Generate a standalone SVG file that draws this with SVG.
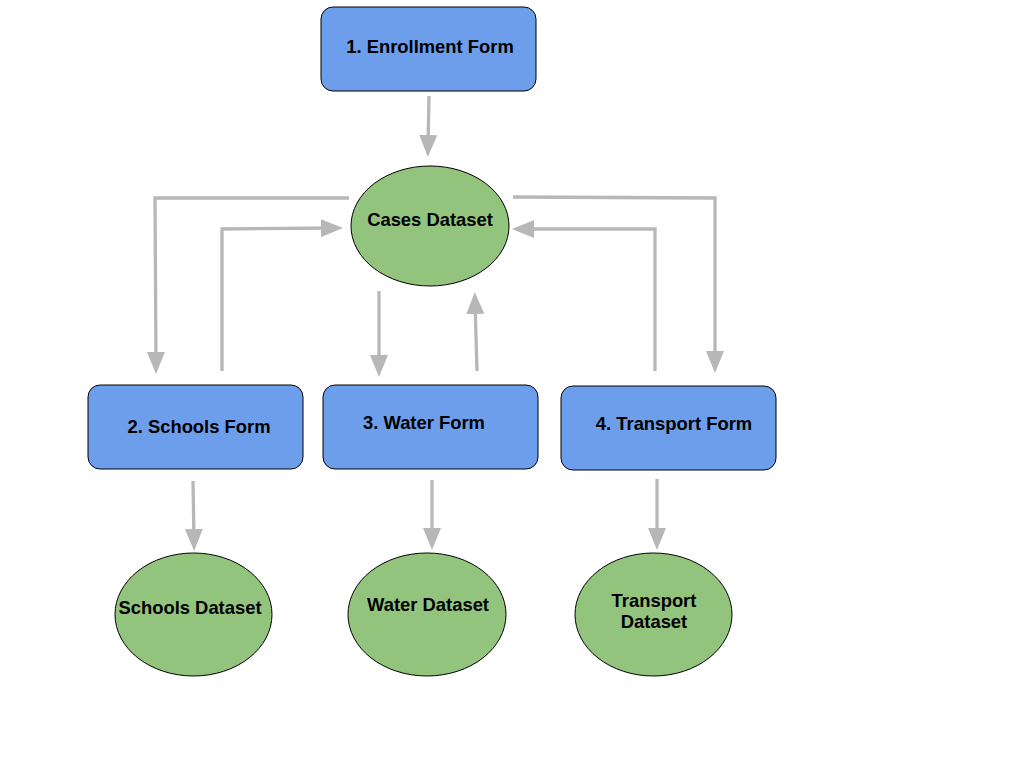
<svg xmlns="http://www.w3.org/2000/svg" width="1024" height="768" viewBox="0 0 1024 768">
<style>
.form{fill:#6d9eeb;stroke:#000;stroke-width:1}
.data{fill:#93c47d;stroke:#000;stroke-width:1}
.lbl{font-family:"Liberation Sans",Arial,sans-serif;font-weight:bold;font-size:18.4px;fill:#000;text-anchor:middle}
.conn{fill:none;stroke:#b7b7b7;stroke-width:3.3;marker-end:url(#ah)}
</style>
<defs>
<marker id="ah" markerUnits="userSpaceOnUse" viewBox="0 0 22 18" refX="12" refY="9" markerWidth="22" markerHeight="18" orient="auto">
<path d="M0,0 L22,9 L0,18 z" fill="#b7b7b7"/>
</marker>
</defs>
<rect width="1024" height="768" fill="#fff"/>
<g id="connectors">
<path class="conn" d="M429,96 L428,147"/>
<path class="conn" d="M349,198 L155,198 L156,364"/>
<path class="conn" d="M222,371 L222,229 L333,228"/>
<path class="conn" d="M379,291 L379,367"/>
<path class="conn" d="M477,371 L475,302"/>
<path class="conn" d="M513,197 L715,198 L715,363"/>
<path class="conn" d="M655,371 L655,229 L522,229"/>
<path class="conn" d="M193,481 L194,541"/>
<path class="conn" d="M432,480 L432,540"/>
<path class="conn" d="M657,479 L657,540"/>
</g>
<g id="enrollment-form">
<rect class="form" x="321" y="7" width="215" height="84" rx="12"/>
<text class="lbl" x="430" y="53">1. Enrollment Form</text>
</g>
<g id="cases-dataset">
<ellipse class="data" cx="430" cy="226" rx="79" ry="60"/>
<text class="lbl" x="430" y="226">Cases Dataset</text>
</g>
<g id="schools-form">
<rect class="form" x="88" y="385" width="215" height="84" rx="12"/>
<text class="lbl" x="199" y="433">2. Schools Form</text>
</g>
<g id="water-form">
<rect class="form" x="323" y="385" width="215" height="84" rx="12"/>
<text class="lbl" x="424" y="429">3. Water Form</text>
</g>
<g id="transport-form">
<rect class="form" x="561" y="386" width="215" height="84" rx="12"/>
<text class="lbl" x="674" y="430">4. Transport Form</text>
</g>
<g id="schools-dataset">
<ellipse class="data" cx="193.5" cy="614.5" rx="78.5" ry="61.5"/>
<text class="lbl" x="190" y="614">Schools Dataset</text>
</g>
<g id="water-dataset">
<ellipse class="data" cx="427" cy="614.5" rx="79" ry="61.5"/>
<text class="lbl" x="428" y="611">Water Dataset</text>
</g>
<g id="transport-dataset">
<ellipse class="data" cx="653.5" cy="614.5" rx="78.5" ry="61.5"/>
<text class="lbl" x="654" y="607">Transport</text>
<text class="lbl" x="654" y="628">Dataset</text>
</g>
</svg>
